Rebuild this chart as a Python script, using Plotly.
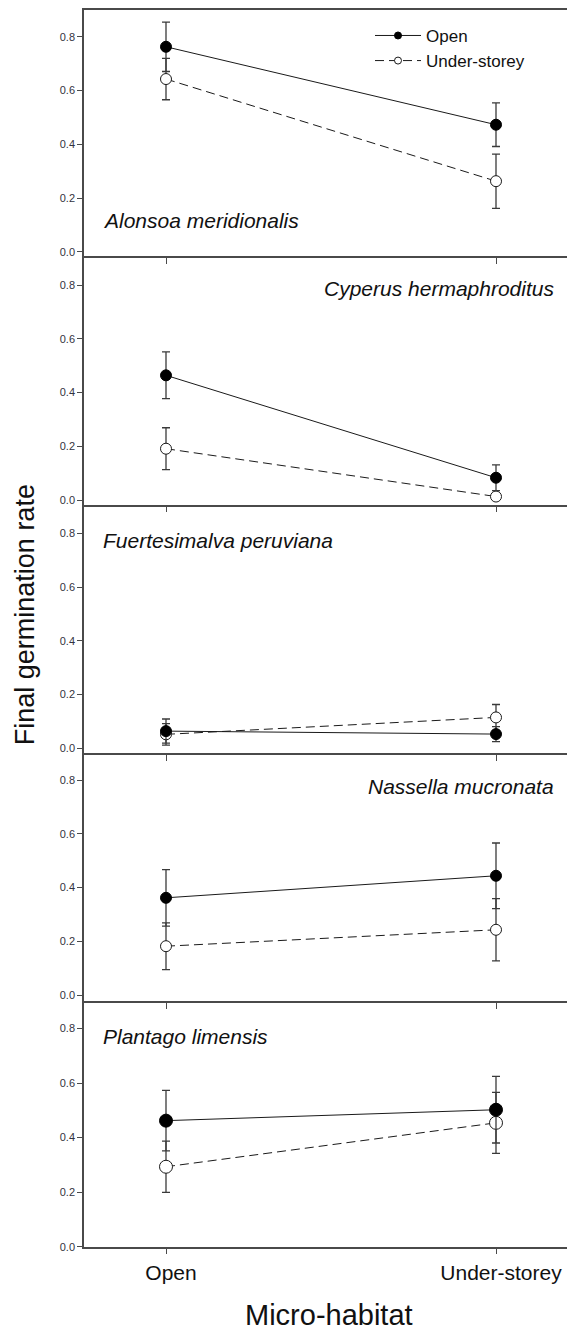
import plotly.graph_objects as go

# Micro-habitat categories (x positions 0 and 1)
habitats = ["Open", "Under-storey"]

# Species shown in each stacked panel, top to bottom
species = [
    "Alonsoa meridionalis",
    "Cyperus hermaphroditus",
    "Fuertesimalva peruviana",
    "Nassella mucronata",
    "Plantago limensis",
]

# Final germination rate (mean) and standard error per species
open_mean = [
    [0.763, 0.473],
    [0.464, 0.083],
    [0.064, 0.053],
    [0.362, 0.444],
    [0.462, 0.502],
]
open_se = [
    [0.092, 0.081],
    [0.087, 0.048],
    [0.045, 0.028],
    [0.105, 0.122],
    [0.111, 0.122],
]
under_mean = [
    [0.643, 0.263],
    [0.191, 0.013],
    [0.052, 0.115],
    [0.182, 0.243],
    [0.293, 0.454],
]
under_se = [
    [0.077, 0.101],
    [0.078, 0.008],
    [0.040, 0.048],
    [0.087, 0.116],
    [0.094, 0.112],
]

y_ticks = [0.0, 0.2, 0.4, 0.6, 0.8]

# ---- layout geometry (pixels) ----
W, H = 567, 1336
LEFT, RIGHT = 84, 567
X_OPEN, X_UNDER = 166, 496
px_per_x = X_UNDER - X_OPEN
x_range = [(LEFT - X_OPEN) / px_per_x, (RIGHT - X_OPEN) / px_per_x]

# (top, bottom axis line, zero line, pixels per unit) for each panel
panels = [
    (10.0, 257.0, 253.0, 270.0),
    (257.0, 507.0, 502.3, 270.0),
    (507.0, 756.7, 751.7, 270.0),
    (756.7, 1006.0, 999.6, 270.0),
    (1006.0, 1252.3, 1252.3, 274.0),
]

label_pos = [
    (101, 221, "left"),
    (556, 290, "right"),
    (101, 543, "left"),
    (556, 790, "right"),
    (101, 1041, "left"),
]

AXIS_COLOR = "#4a4a4a"
LINE_COLOR = "#1a1a1a"
FONT = "Liberation Sans, Arial, sans-serif"
TICK_FONT = dict(family=FONT, size=11, color="#333340")


def fy(ypx):
    return 1 - ypx / H


fig = go.Figure()
layout = {}
annotations = []

for i, (top, bottom, zero, ppu) in enumerate(panels):
    n = "" if i == 0 else str(i + 1)
    xa, ya = "x" + n, "y" + n
    last = i == len(panels) - 1
    msize = 13 if last else 11

    # Under-storey: dashed line, open circles
    fig.add_trace(go.Scatter(
        x=[0, 1], y=under_mean[i], xaxis=xa, yaxis=ya,
        mode="lines+markers", name="Under-storey", showlegend=False,
        line=dict(color=LINE_COLOR, width=1, dash="9px,5px"),
        marker=dict(symbol="circle", size=msize, color="white",
                    line=dict(color=LINE_COLOR, width=1)),
        error_y=dict(type="data", array=under_se[i], visible=True,
                     color="#3a3a3a", thickness=1.3, width=4),
    ))
    # Open: solid line, filled circles
    fig.add_trace(go.Scatter(
        x=[0, 1], y=open_mean[i], xaxis=xa, yaxis=ya,
        mode="lines+markers", name="Open", showlegend=False,
        line=dict(color=LINE_COLOR, width=1),
        marker=dict(symbol="circle", size=msize, color="black",
                    line=dict(color="black", width=1)),
        error_y=dict(type="data", array=open_se[i], visible=True,
                     color="#3a3a3a", thickness=1.3, width=4),
    ))

    ymin = -(bottom - zero) / ppu
    ymax = ymin + (bottom - top) / ppu

    layout["xaxis" + n] = dict(
        domain=[LEFT / W, 1], range=x_range, anchor=ya,
        tickvals=[0, 1], ticktext=habitats, ticklabelshift=5,
        showticklabels=last, ticks="outside", ticklen=6, tickwidth=1.3,
        tickcolor=AXIS_COLOR, showline=True, linecolor=AXIS_COLOR,
        linewidth=1.5, mirror=(i == 0), showgrid=False, zeroline=False,
        tickfont=dict(family=FONT, size=21, color="#111"),
        fixedrange=True,
    )
    layout["yaxis" + n] = dict(
        domain=[fy(bottom), fy(top)], range=[ymin, ymax], anchor=xa,
        tickvals=y_ticks, ticktext=[f"{v:.1f}" for v in y_ticks],
        ticks="outside", ticklen=5, tickwidth=1.3, tickcolor=AXIS_COLOR,
        showline=True, linecolor=AXIS_COLOR, linewidth=1.5,
        showgrid=False, zeroline=False, tickfont=TICK_FONT,
        fixedrange=True,
    )

    lx, ly, anchor = label_pos[i]
    annotations.append(dict(
        x=lx / W, y=fy(ly), xref="paper", yref="paper",
        text=f"<i>{species[i]}</i>", showarrow=False,
        xanchor=anchor, yanchor="middle",
        font=dict(family=FONT, size=21, color="#111"),
    ))

# Legend keys with small symbols, as in the top panel's key
fig.add_trace(go.Scatter(
    x=[None], y=[None], mode="lines+markers", name="Open",
    line=dict(color=LINE_COLOR, width=1),
    marker=dict(symbol="circle", size=7, color="black",
                line=dict(color="black", width=1)),
))
fig.add_trace(go.Scatter(
    x=[None], y=[None], mode="lines+markers", name="Under-storey",
    line=dict(color=LINE_COLOR, width=1, dash="9px,5px"),
    marker=dict(symbol="circle", size=7, color="white",
                line=dict(color=LINE_COLOR, width=1)),
))

annotations.append(dict(
    x=25 / W, y=fy(618), xref="paper", yref="paper",
    text="Final germination rate", textangle=-90, showarrow=False,
    xanchor="center", yanchor="middle",
    font=dict(family=FONT, size=27, color="#111"),
))
annotations.append(dict(
    x=329 / W, y=fy(1321), xref="paper", yref="paper",
    text="Micro-habitat", showarrow=False,
    xanchor="center", yanchor="middle",
    font=dict(family=FONT, size=29, color="#111"),
))

fig.update_layout(
    width=W, height=H,
    margin=dict(l=0, r=0, t=0, b=0),
    paper_bgcolor="white", plot_bgcolor="white",
    annotations=annotations,
    showlegend=True,
    legend=dict(
        x=370 / W, y=fy(18), xanchor="left", yanchor="top",
        bgcolor="rgba(0,0,0,0)", borderwidth=0,
        font=dict(family=FONT, size=17, color="#111"),
        itemwidth=46, tracegroupgap=0,
    ),
    **layout,
)

fig.write_html("out.html")
